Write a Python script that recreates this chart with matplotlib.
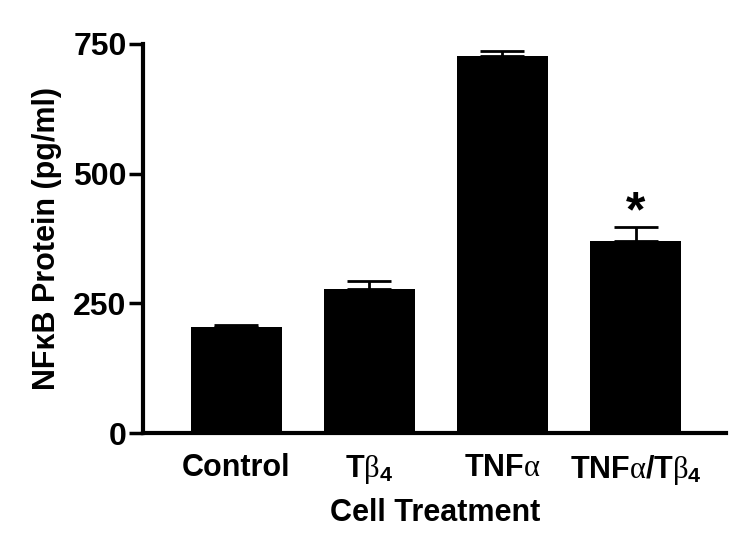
import matplotlib
matplotlib.use("Agg")
import matplotlib.pyplot as plt
import numpy as np

# values
treatments = ["Control", r"T$\beta_4$", r"TNF$\alpha$", r"TNF$\alpha$/T$\beta_4$"]
nfkb_mean = [205, 278, 726, 370]
nfkb_sem = [3, 15, 10, 27]
significant = [False, False, False, True]
y_ticks = [0, 250, 500, 750]

plt.rcParams['font.family'] = ['Liberation Sans', 'DejaVu Sans']
plt.rcParams['font.weight'] = 'bold'
plt.rcParams['mathtext.fontset'] = 'custom'
plt.rcParams['mathtext.rm'] = 'Liberation Sans:weight=bold'
plt.rcParams['mathtext.it'] = 'Liberation Serif:weight=normal'
plt.rcParams['mathtext.bf'] = 'Liberation Sans:weight=bold'

fig = plt.figure(figsize=(7.5, 5.47), dpi=100)
ax = fig.add_axes([0.191, 0.208, 0.777, 0.712])

x = np.arange(len(treatments))
zeros = [0] * len(nfkb_sem)
ax.bar(x, nfkb_mean, width=0.68, color='black', zorder=2)
ax.errorbar(x, nfkb_mean, yerr=[zeros, nfkb_sem], fmt='none',
            ecolor='black', elinewidth=2, capsize=16, capthick=2, zorder=1)

# significance marker
for xi, m, e, sig in zip(x, nfkb_mean, nfkb_sem, significant):
    if sig:
        ax.text(xi, m + e + 27, '*', ha='center', va='center',
                fontsize=36, fontweight='bold')

ax.set_xlim(-0.70, 3.68)
ax.set_ylim(0, 750)
ax.set_yticks(y_ticks)
ax.set_yticklabels([str(t) for t in y_ticks], fontsize=23, fontweight='bold')
ax.set_xticks(x)
ax.set_xticklabels(treatments, fontsize=22, fontweight='bold')
ax.tick_params(axis='x', length=0, pad=14)
ax.tick_params(axis='y', length=10, width=2.5, pad=2, direction='out')

for side in ['top', 'right']:
    ax.spines[side].set_visible(False)
for side in ['left', 'bottom']:
    ax.spines[side].set_linewidth(3)

ax.set_xlabel("Cell Treatment", fontsize=22, fontweight='bold', labelpad=8)
ax.set_ylabel("NFκB Protein (pg/ml)", fontsize=22, fontweight='bold', labelpad=8)

plt.savefig("out.png", dpi=100)
plt.close()
